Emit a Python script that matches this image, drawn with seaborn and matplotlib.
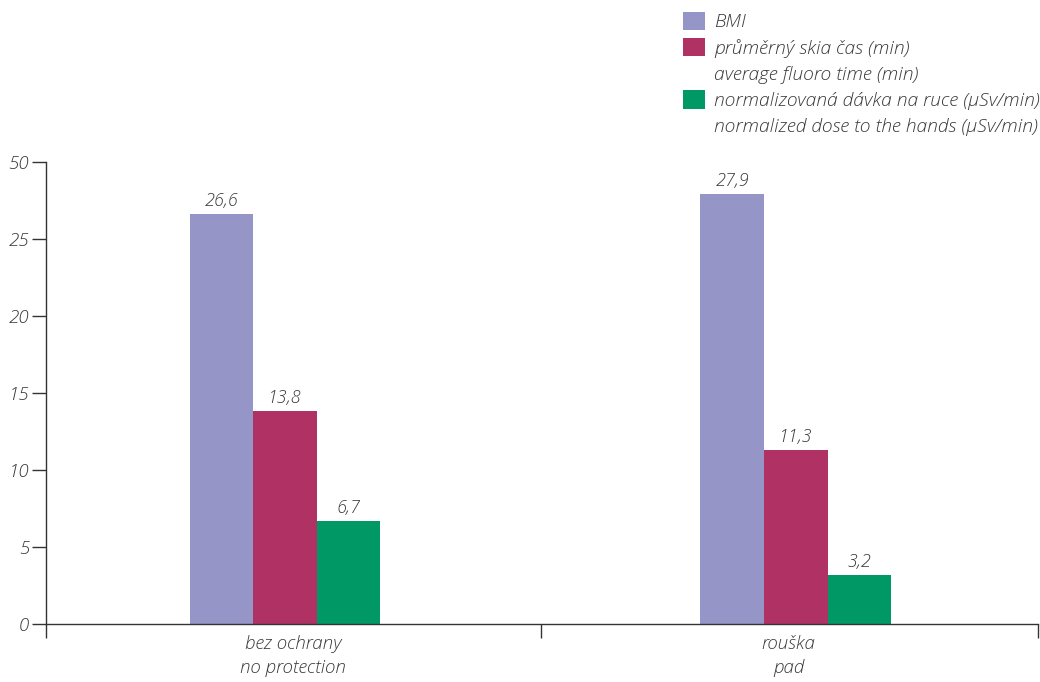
import matplotlib
matplotlib.use("Agg")
import matplotlib.pyplot as plt
import seaborn as sns
import pandas as pd
from matplotlib.patches import Patch

categories = ["bez ochrany\nno protection", "rouška\npad"]
series = ["BMI", "průměrný skia čas (min)", "normalizovaná dávka na ruce (µSv/min)"]
series_second_line = [None, "average fluoro time (min)", "normalized dose to the hands (µSv/min)"]
bmi = [26.6, 27.9]
fluoro_time = [13.8, 11.3]
hand_dose = [6.7, 3.2]
ytick_values = [0, 5, 10, 15, 20, 25, 30]
ytick_labels = ["0", "5", "10", "15", "20", "25", "50"]
colors = ["#9595C8", "#B03264", "#009966"]

rows = []
for vals, s in zip([bmi, fluoro_time, hand_dose], series):
    for c, v in zip(categories, vals):
        rows.append({"cat": c, "series": s, "value": v})
df = pd.DataFrame(rows)

sns.set_style("white", {"xtick.bottom": True, "ytick.left": True})
plt.rcParams["font.family"] = ["Open Sans", "DejaVu Sans"]
text_color = "#383838"
fs = 13
fs_tick = 13.5
fs_leg = 13.9
fw = 300

fig = plt.figure(figsize=(10.4, 6.82), dpi=100)
ax = fig.add_axes([0.044, 0.085, 0.954, 0.6775])

sns.barplot(data=df, x="cat", y="value", hue="series", hue_order=series,
            order=categories, palette=colors, width=0.373, saturation=1,
            linewidth=0, ax=ax, legend=False)

for cont in ax.containers:
    labels = [f"{b.get_height():.1f}".replace(".", ",") for b in cont]
    ax.bar_label(cont, labels=labels, padding=3, fontsize=fs, fontweight=fw,
                 fontstyle="italic", color=text_color)

x_left, x_mid, x_right = -0.468, 0.501, 1.474
ax.set_ylim(0, 30)
ax.set_xlim(x_left, x_right)
ax.set_yticks(ytick_values)
ax.set_yticklabels(ytick_labels, fontsize=fs_tick, fontweight=fw, fontstyle="italic", color=text_color)
ax.set_xticks([0.016, 0.986])
ax.set_xticklabels(categories, fontsize=fs_tick, fontweight=fw, fontstyle="italic", color=text_color,
                   linespacing=1.4)
ax.set_xticks([x_left, x_mid, x_right], minor=True)
ax.tick_params(axis="x", which="major", length=0, pad=8)
ax.tick_params(axis="x", which="minor", bottom=True, length=10, width=1,
               color="#333333", direction="out")
ax.tick_params(axis="y", which="major", left=True, length=10, width=1,
               color="#333333", direction="out", pad=2)
ax.set_xlabel("")
ax.set_ylabel("")
for side in ["top", "right"]:
    ax.spines[side].set_visible(False)
for side in ["left", "bottom"]:
    ax.spines[side].set_color("#333333")
    ax.spines[side].set_linewidth(1)
ax.grid(False)

handles = []
labels = []
for s, s2, col in zip(series, series_second_line, colors):
    handles.append(Patch(facecolor=col, edgecolor="none"))
    labels.append(s)
    if s2:
        handles.append(Patch(facecolor="none", edgecolor="none"))
        labels.append(s2)
leg = fig.legend(handles, labels, loc="upper left", bbox_to_anchor=(0.657, 0.983),
                 frameon=False, fontsize=fs_leg, handlelength=1.1, handleheight=1.1,
                 handletextpad=0.5, labelspacing=0.33, borderaxespad=0, borderpad=0)
for t in leg.get_texts():
    t.set_fontstyle("italic")
    t.set_fontweight(fw)
    t.set_color(text_color)

fig.savefig("out.png", dpi=100)
